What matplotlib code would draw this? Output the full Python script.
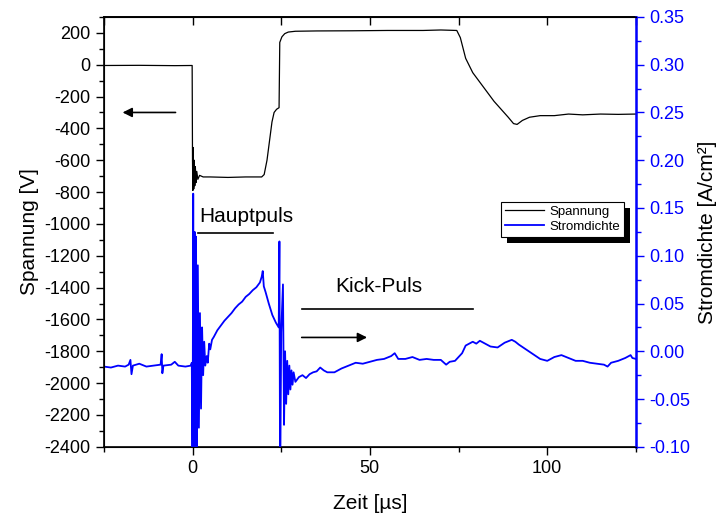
import matplotlib
matplotlib.use("Agg")
import matplotlib.pyplot as plt
from matplotlib.ticker import MultipleLocator
from matplotlib.patches import Rectangle
from matplotlib.transforms import IdentityTransform

plt.rcParams['font.family'] = ['Liberation Sans', 'DejaVu Sans']
plt.rcParams['axes.unicode_minus'] = False

# Spannung [V] vs Zeit [us]
t_u = [-25, -15, -5, -0.1, 0.0, 0.1, 0.2, 0.35, 0.5, 0.65, 0.8, 1.0, 1.2, 1.5, 2, 3,
       5, 10, 15, 19.5, 20.2, 21, 21.7, 22.4, 23, 23.7, 24.4, 24.6, 25.2, 26, 27,
       29, 35, 45, 55, 65, 70, 74.5, 75.5, 77, 79, 81, 83, 85, 87, 89, 90.5, 91.5,
       93, 95, 98, 102, 106, 110, 115, 120, 125]
spannung = [-5, -4, -6, -5, -600, -790, -520, -780, -600, -760, -640, -740, -670, -720,
            -695, -705, -705, -708, -705, -705, -690, -600, -480, -360, -300, -280,
            -270, 140, 175, 195, 205, 210, 212, 213, 215, 215, 218, 215, 170, 40, -50,
            -110, -170, -230, -280, -330, -370, -375, -350, -330, -320, -320, -310,
            -315, -310, -312, -310]

# Stromdichte [A/cm^2] vs Zeit [us]
t_j = [-25, -23, -21, -19, -18, -17.5, -17.2, -16.8, -15, -13, -11, -9, -8.7, -8.5,
       -8.2, -6, -5, -4, -2, -0.5, -0.2,
       0.0, 0.2, 0.4, 0.6, 0.8, 1.0, 1.2, 1.5, 1.8, 2.1, 2.4, 2.7, 3.0, 3.3, 3.6, 4.0,
       4.3, 4.7, 5.0, 5.5, 6, 7, 8, 9, 10, 11, 12, 13, 14, 15, 16, 17, 18, 19, 19.5,
       19.8, 20.1, 20.6, 21.5, 22.5, 23.5, 24.3,
       24.5, 24.7, 25.0, 25.5, 25.8, 26.1, 26.4, 26.7, 27.0, 27.3, 27.6, 27.9, 28.2,
       28.5, 29, 30, 31, 32, 33, 34, 35, 36, 37, 38, 40, 42, 44, 46, 48, 50, 52, 54,
       56, 57, 58, 60, 62, 64, 66, 68, 70, 71.5, 72.5, 74, 76, 77, 78, 79, 80, 81, 82,
       84, 86, 88, 90, 91, 92, 94, 96, 98, 100, 102, 104, 106, 108, 110, 112, 114,
       116, 117, 118, 120, 122, 123.5, 124, 125]
strom = [-0.016, -0.017, -0.015, -0.016, -0.014, -0.009, -0.024, -0.015, -0.013,
         -0.016, -0.015, -0.014, -0.003, -0.023, -0.015, -0.014, -0.011, -0.015,
         -0.016, -0.015, -0.012,
         -0.15, 0.165, -0.15, 0.125, -0.15, 0.12, -0.12, 0.09, -0.08, 0.04, -0.06,
         0.025, -0.025, 0.01, -0.015, -0.005, -0.012, 0.008, 0.002, 0.012, 0.015,
         0.022, 0.027, 0.032, 0.036, 0.040, 0.045, 0.049, 0.052, 0.057, 0.060, 0.064,
         0.067, 0.072, 0.078, 0.084, 0.068, 0.062, 0.050, 0.038, 0.030, 0.025,
         0.115, -0.15, 0.02, 0.07, -0.077, 0.0, -0.055, -0.01, -0.045, -0.015, -0.04,
         -0.02, -0.035, -0.022, -0.032, -0.027, -0.025, -0.028, -0.024, -0.022,
         -0.021, -0.017, -0.020, -0.022, -0.022, -0.018, -0.015, -0.012, -0.013,
         -0.011, -0.009, -0.008, -0.005, -0.002, -0.008, -0.008, -0.006, -0.009,
         -0.008, -0.009, -0.009, -0.014, -0.011, -0.010, -0.002, 0.006, 0.008, 0.010,
         0.008, 0.011, 0.009, 0.005, 0.004, 0.009, 0.012, 0.010, 0.007, 0.002,
         -0.003, -0.008, -0.010, -0.006, -0.004, -0.007, -0.010, -0.010, -0.012,
         -0.013, -0.014, -0.016, -0.012, -0.010, -0.007, -0.004, -0.007, -0.008]

fig = plt.figure(figsize=(7.21, 5.13), dpi=100)
ax1 = fig.add_axes([0.144, 0.129, 0.738, 0.838])
ax2 = ax1.twinx()

l1, = ax1.plot(t_u, spannung, color='black', lw=0.9, label='Spannung')
l2, = ax2.plot(t_j, strom, color='blue', lw=1.3, label='Stromdichte')

ax1.set_xlim(-25, 125)
ax1.set_ylim(-2400, 300)
ax2.set_ylim(-0.10, 0.35)

ax1.xaxis.set_major_locator(MultipleLocator(50))
ax1.xaxis.set_minor_locator(MultipleLocator(25))
ax1.yaxis.set_major_locator(MultipleLocator(200))
ax1.yaxis.set_minor_locator(MultipleLocator(100))
ax2.yaxis.set_major_locator(MultipleLocator(0.05))
ax2.yaxis.set_minor_locator(MultipleLocator(0.025))
ax2.yaxis.set_major_formatter(plt.FormatStrFormatter('%.2f'))

ax1.tick_params(axis='both', which='major', length=6, width=1, labelsize=13, direction='out')
ax1.tick_params(axis='both', which='minor', length=3.5, width=1, direction='out')
ax1.tick_params(axis='x', which='both', top=False)
ax2.tick_params(axis='y', which='major', length=6, width=1, labelsize=13,
                colors='blue', direction='out')
ax2.tick_params(axis='y', which='minor', length=3.5, width=1, colors='blue', direction='out')
ax2.spines['right'].set_color('blue')
ax2.spines['right'].set_linewidth(1.8)
for s in ['left', 'bottom', 'top']:
    ax1.spines[s].set_linewidth(1.2)

# top axis: ticks pointing inward, no labels
top = ax1.secondary_xaxis('top')
top.xaxis.set_major_locator(MultipleLocator(25))
top.tick_params(direction='in', length=6, width=1, labeltop=False)
top.spines['top'].set_linewidth(1.2)

ax1.set_xlabel('Zeit [µs]', fontsize=15, labelpad=12)
ax1.set_ylabel('Spannung [V]', fontsize=15, labelpad=4)
ax2.set_ylabel('Stromdichte [A/cm²]', fontsize=15, labelpad=6)

# annotations
ax1.annotate('', xy=(-20.5, -300), xytext=(-4, -300),
             arrowprops=dict(arrowstyle='-|>', color='black', lw=1.2, mutation_scale=14))
ax1.annotate('', xy=(50, -1713), xytext=(30, -1713),
             arrowprops=dict(arrowstyle='-|>', color='black', lw=1.2, mutation_scale=14))
ax1.plot([1.5, 22.7], [-1058, -1058], color='black', lw=1.2)
ax1.plot([30.9, 79.1], [-1537, -1537], color='black', lw=1.2)
ax1.text(2.0, -951, 'Hauptpuls', fontsize=15, va='center', ha='left')
ax1.text(40.2, -1392, 'Kick-Puls', fontsize=15, va='center', ha='left')

leg = ax2.legend([l1, l2], ['Spannung', 'Stromdichte'], loc='upper left',
                 bbox_to_anchor=(0.746, 0.57), fontsize=9.5, fancybox=False,
                 edgecolor='black', framealpha=1, borderpad=0.3, labelspacing=0.2,
                 handlelength=3, handletextpad=0.4, borderaxespad=0)
leg.get_frame().set_linewidth(0.8)
leg.set_zorder(6)

# Origin-style solid black shadow behind the legend
fig.canvas.draw()
bb = leg.get_window_extent()
shadow = Rectangle((bb.x0 + 6, bb.y0 - 6), bb.width, bb.height, facecolor='black',
                   edgecolor='none', transform=IdentityTransform(), zorder=5.5,
                   clip_on=False)
ax2.add_patch(shadow)

fig.savefig('out.png', dpi=100)
